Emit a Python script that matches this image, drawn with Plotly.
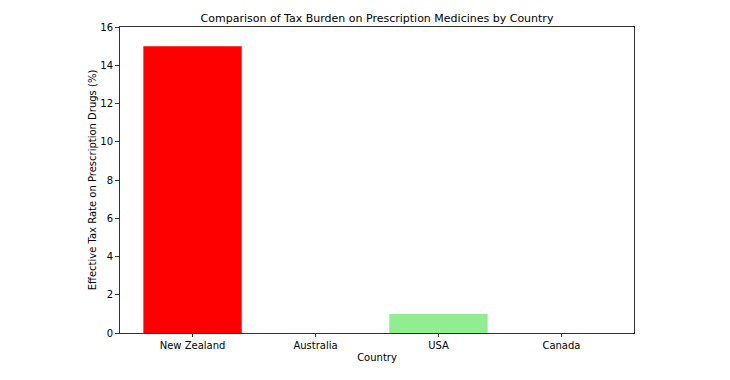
import plotly.graph_objects as go

countries = ["New Zealand", "Australia", "USA", "Canada"]
tax_rates = [15, 0, 1, 0]
bar_colors = ["red", "blue", "lightgreen", "orange"]
y_ticks = [0, 2, 4, 6, 8, 10, 12, 14, 16]

W, H = 722, 372  # page body has an 8px margin
L, R, T, B = 112, 96, 19, 47

fig = go.Figure(go.Bar(
    x=list(range(len(countries))), y=tax_rates, marker_color=bar_colors,
    marker_line_width=0, width=0.8,
))

font = dict(family="DejaVu Sans", size=10, color="black")
fig.update_layout(
    width=W, height=H,
    margin=dict(l=L, r=R, t=T, b=B),
    paper_bgcolor="white", plot_bgcolor="white",
    font=font,
    showlegend=False,
    title=dict(text="Comparison of Tax Burden on Prescription Medicines by Country",
               x=(L + (W - R)) / 2 / W, xanchor="center", y=1 - 10 / H, yanchor="middle",
               font=dict(family="DejaVu Sans", size=11, color="black")),
)
fig.update_xaxes(
    range=[-0.59, 3.59], tickvals=list(range(len(countries))), ticktext=countries,
    showline=True, linecolor="#333", linewidth=1, mirror=True,
    ticks="outside", ticklen=3, tickcolor="#333", showgrid=False, zeroline=False,
    title=dict(text="Country", standoff=3, font=font),
)
fig.update_yaxes(
    range=[0, 16], tickvals=y_ticks,
    showline=True, linecolor="#333", linewidth=1, mirror=True,
    ticks="outside", ticklen=4, tickcolor="#333", showgrid=False, zeroline=False,
    title=dict(text="Effective Tax Rate on Prescription Drugs (%)", standoff=1, font=font),
)

fig.write_html("out.html")
